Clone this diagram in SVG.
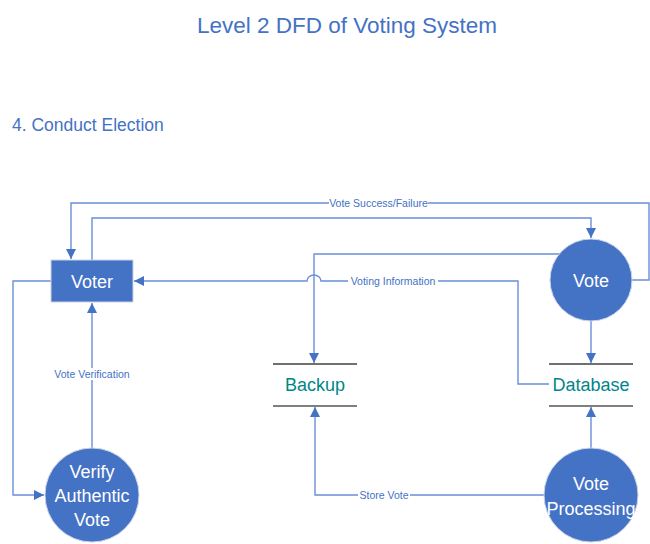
<svg xmlns="http://www.w3.org/2000/svg" width="650" height="544" viewBox="0 0 650 544">
<style>
.t{font-family:"Liberation Sans",Arial,sans-serif}
.title{font-size:22.5px;fill:#4472C4}
.sub{font-size:17.5px;fill:#4472C4}
.node{fill:#4472C4;stroke:#c9d3e6;stroke-width:1}
.nt{font-size:18px;fill:#ffffff;text-anchor:middle}
.st{font-size:18px;fill:#00868B;text-anchor:middle}
.c{fill:none;stroke:#6A8FD8;stroke-width:1.4}
.lbl{font-size:10.5px;fill:#4472C4;text-anchor:middle}
.bg{fill:#ffffff}
</style>
<defs>
<marker id="ah" viewBox="0 0 10 10" refX="10" refY="5" markerWidth="10" markerHeight="10" markerUnits="userSpaceOnUse" orient="auto">
<path d="M0,0 L10,5 L0,10 Z" fill="#4472C4"/>
</marker>
</defs>
<rect width="650" height="544" fill="#ffffff"/>
<text class="t title" x="347" y="33" text-anchor="middle">Level 2 DFD of Voting System</text>
<text class="t sub" x="12" y="131">4. Conduct Election</text>

<g id="connectors">
<path class="c" d="M632,280 H649 V203 H71 V259" marker-end="url(#ah)"/>
<path class="c" d="M92,260 V218 H591 V238" marker-end="url(#ah)"/>
<path class="c" d="M560,254 H314 V363" marker-end="url(#ah)"/>
<path class="c" d="M549,384 H518 V281 H321 A7,6 0 0 0 307,281 H134" marker-end="url(#ah)"/>
<path class="c" d="M591,321 V363" marker-end="url(#ah)"/>
<path class="c" d="M591,448 V407" marker-end="url(#ah)"/>
<path class="c" d="M544,495 H315 V407" marker-end="url(#ah)"/>
<path class="c" d="M92,448 V303" marker-end="url(#ah)"/>
<path class="c" d="M51,281 H13 V495 H44" marker-end="url(#ah)"/>
<rect class="bg" x="329" y="197" width="99" height="12"/>
<text class="t lbl" x="378.5" y="206.5">Vote Success/Failure</text>
<rect class="bg" x="348" y="275" width="90" height="12"/>
<text class="t lbl" x="393" y="284.5">Voting Information</text>
<rect class="bg" x="358" y="489" width="52" height="12"/>
<text class="t lbl" x="384" y="498.5">Store Vote</text>
<rect class="bg" x="50" y="368" width="84" height="12"/>
<text class="t lbl" x="92" y="377.5">Vote Verification</text>
</g>

<g id="voter">
<rect class="node" x="51" y="260" width="82" height="42"/>
<text class="t nt" x="92" y="287.5">Voter</text>
</g>
<g id="vote">
<circle class="node" cx="591" cy="280" r="41"/>
<text class="t nt" x="591" y="287">Vote</text>
</g>
<g id="verify">
<circle class="node" cx="92" cy="495" r="47"/>
<text class="t nt" x="92" y="477.5">Verify</text>
<text class="t nt" x="92" y="501.5">Authentic</text>
<text class="t nt" x="92" y="526">Vote</text>
</g>
<g id="processing">
<circle class="node" cx="591" cy="495" r="47"/>
<text class="t nt" x="591" y="489.5">Vote</text>
<text class="t nt" x="591" y="514.5">Processing</text>
</g>
<g id="backup">
<line x1="273" y1="364" x2="357" y2="364" stroke="#404040" stroke-width="1.3"/>
<line x1="273" y1="406" x2="357" y2="406" stroke="#7f7f7f" stroke-width="2.2"/>
<text class="t st" x="315" y="391">Backup</text>
</g>
<g id="database">
<line x1="549" y1="364" x2="633" y2="364" stroke="#404040" stroke-width="1.3"/>
<line x1="549" y1="406" x2="633" y2="406" stroke="#7f7f7f" stroke-width="2.2"/>
<text class="t st" x="591" y="391">Database</text>
</g>
</svg>
